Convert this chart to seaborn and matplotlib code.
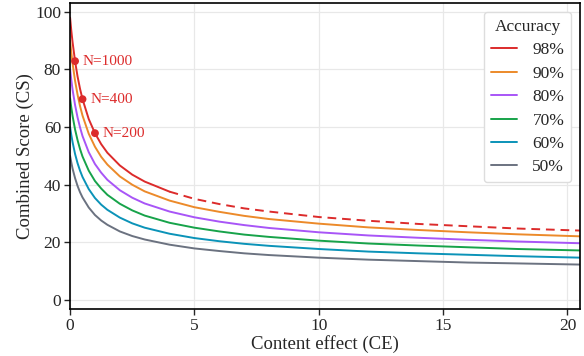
import matplotlib
matplotlib.use("Agg")
import matplotlib.pyplot as plt
import pandas as pd
import seaborn as sns

# values
content_effect = [0, 0.05, 0.1, 0.2, 0.3, 0.4, 0.5, 0.75, 1, 1.25, 1.5, 2, 2.5, 3, 4,
                  5, 6, 7, 8, 10, 12, 14, 16, 18, 20.5]
cs_98 = [98.0, 93.4, 89.5, 82.9, 77.6, 73.3, 69.7, 62.8, 57.9, 54.1, 51.1, 46.7, 43.5, 41.1, 37.6,
         35.1, 33.3, 31.8, 30.7, 28.8, 27.5, 26.4, 25.6, 24.8, 24.1]
cs_90 = [90.0, 85.8, 82.2, 76.1, 71.3, 67.3, 64.0, 57.7, 53.2, 49.7, 47.0, 42.9, 40.0, 37.7, 34.5,
         32.2, 30.6, 29.2, 28.1, 26.5, 25.2, 24.3, 23.5, 22.8, 22.1]
cs_80 = [80.0, 76.3, 73.0, 67.7, 63.4, 59.9, 56.9, 51.3, 47.2, 44.2, 41.7, 38.1, 35.5, 33.5, 30.7,
         28.7, 27.2, 26.0, 25.0, 23.5, 22.4, 21.6, 20.9, 20.3, 19.7]
cs_70 = [70.0, 66.7, 63.9, 59.2, 55.5, 52.4, 49.8, 44.9, 41.3, 38.7, 36.5, 33.4, 31.1, 29.3, 26.8,
         25.1, 23.8, 22.7, 21.9, 20.6, 19.6, 18.9, 18.3, 17.7, 17.2]
cs_60 = [60.0, 57.2, 54.8, 50.7, 47.5, 44.9, 42.7, 38.5, 35.4, 33.1, 31.3, 28.6, 26.6, 25.1, 23.0,
         21.5, 20.4, 19.5, 18.8, 17.7, 16.8, 16.2, 15.7, 15.2, 14.7]
cs_50 = [50.0, 47.7, 45.6, 42.3, 39.6, 37.4, 35.6, 32.1, 29.5, 27.6, 26.1, 23.8, 22.2, 21.0, 19.2,
         17.9, 17.0, 16.2, 15.6, 14.7, 14.0, 13.5, 13.0, 12.7, 12.3]

accuracy_labels = ["98%", "90%", "80%", "70%", "60%", "50%"]
series = [cs_98, cs_90, cs_80, cs_70, cs_60, cs_50]
solid_limit = 4  # 98% curve goes dashed after this CE

marker_ce = [0.2, 0.5, 1.0]
marker_cs = [82.9, 69.7, 57.9]
marker_labels = ["N=1000", "N=400", "N=200"]

colors = ["#dc2b2b", "#ec8a2a", "#a855f7", "#17a34a", "#0b93b8", "#6b7280"]

sns.set_style("ticks")
plt.rcParams["font.family"] = ["Liberation Serif", "DejaVu Serif"]

fig, ax = plt.subplots(figsize=(5.84, 3.56), dpi=100)
fig.subplots_adjust(left=0.12, right=0.993, top=0.991, bottom=0.133)

ax.grid(True, color="#e8e8e8", linewidth=0.9)
ax.set_axisbelow(True)

for lab, vals, col in zip(accuracy_labels, series, colors):
    df = pd.DataFrame({"ce": content_effect, "cs": vals})
    if lab == "98%":
        solid = df[df.ce <= solid_limit]
        dashed = df[df.ce >= solid_limit]
        sns.lineplot(data=solid, x="ce", y="cs", ax=ax, color=col, lw=1.4, label=lab)
        sns.lineplot(data=dashed, x="ce", y="cs", ax=ax, color=col, lw=1.4,
                     linestyle=(0, (4.5, 3)), legend=False)
    else:
        sns.lineplot(data=df, x="ce", y="cs", ax=ax, color=col, lw=1.4, label=lab)

sns.scatterplot(x=marker_ce, y=marker_cs, ax=ax, color=colors[0], s=32,
                edgecolor="none", zorder=5, legend=False)
for cx, cy, txt in zip(marker_ce, marker_cs, marker_labels):
    ax.annotate(txt, (cx, cy), xytext=(5.5, 0), textcoords="offset points",
                va="center", ha="left", color=colors[0], fontsize=11)

ax.set_xlim(0, 20.5)
ax.set_ylim(-3, 103)
ax.set_xticks([0, 5, 10, 15, 20])
ax.set_yticks([0, 20, 40, 60, 80, 100])
ax.set_xlabel("Content effect (CE)", fontsize=13.5, labelpad=1)
ax.set_ylabel("Combined Score (CS)", fontsize=13.5, labelpad=1)
ax.tick_params(labelsize=12.5, length=4, width=1, pad=2.5)
for s in ax.spines.values():
    s.set_visible(True)
    s.set_color("black")
    s.set_linewidth(1.2)

leg = ax.legend(title="Accuracy", loc="upper right", fontsize=12.5, title_fontsize=12.5,
                handlelength=1.5, handletextpad=0.9, labelspacing=0.42, fancybox=True,
                framealpha=1, edgecolor="#dddddd")

plt.savefig("out.png", dpi=100)
